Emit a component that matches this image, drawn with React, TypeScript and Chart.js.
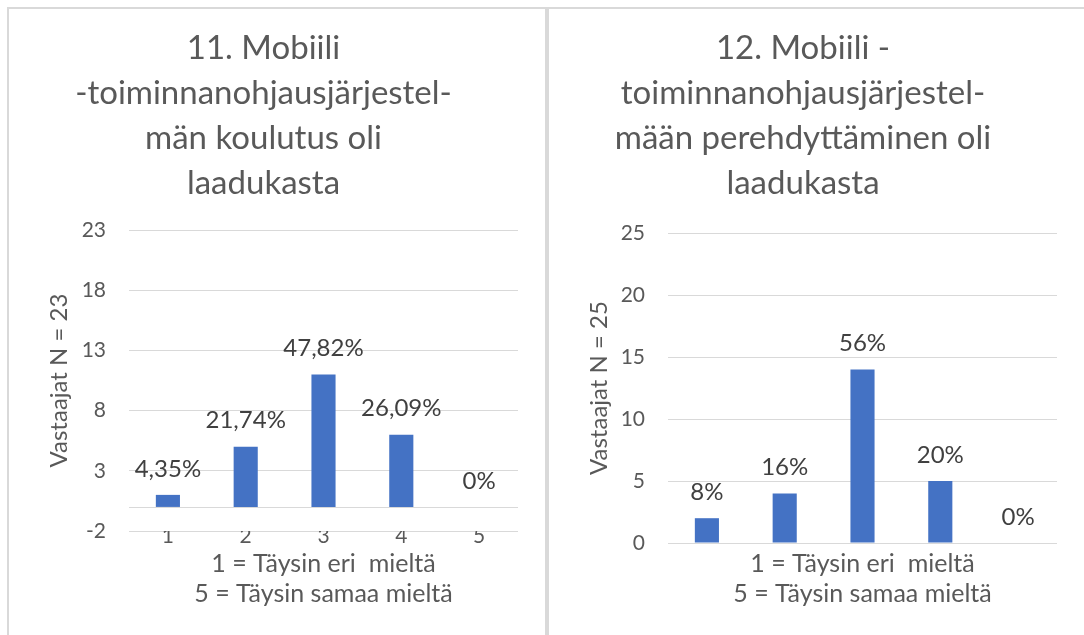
import React, { useEffect, useRef } from "react";
import { Chart, registerables } from "chart.js";

Chart.register(...registerables);

const categories = ["1", "2", "3", "4", "5"];

const title11 = ["11. Mobiili", "-toiminnanohjausjärjestel-", "män koulutus oli", "laadukasta"];
const counts11 = [1, 5, 11, 6, 0];
const pctLabels11 = ["4,35%", "21,74%", "47,82%", "26,09%", "0%"];
const yAxisTitle11 = "Vastaajat N = 23";
const yMin11 = -2;
const yMax11 = 23;

const title12 = ["12. Mobiili -", "toiminnanohjausjärjestel-", "mään perehdyttäminen oli", "laadukasta"];
const counts12 = [2, 4, 14, 5, 0];
const pctLabels12 = ["8%", "16%", "56%", "20%", "0%"];
const yAxisTitle12 = "Vastaajat N = 25";
const yMin12 = 0;
const yMax12 = 25;

const yStep = 5;
const xAxisTitle = ["1 = Täysin eri  mieltä", "5 = Täysin samaa mieltä"];

const FONT = "Lato, 'Open Sans', sans-serif";
const GREY = "#595959";
const GRID = "#d9d9d9";
const BAR = "#4472C4";
const TICK_SIZE = 21;

const labelPlugin = {
  id: "pctLabels",
  afterDatasetsDraw(chart: any, _args: any, opts: any) {
    const ctx = chart.ctx;
    const meta = chart.getDatasetMeta(0);
    ctx.save();
    ctx.font = `24px ${FONT}`;
    ctx.fillStyle = "#404040";
    ctx.textAlign = "center";
    ctx.textBaseline = "middle";
    meta.data.forEach((bar: any, i: number) => {
      ctx.fillText(opts.labels[i], bar.x, bar.y - 26);
    });
    ctx.restore();
  },
};

const zeroLinePlugin = {
  id: "zeroLine",
  beforeDatasetsDraw(chart: any) {
    const y = chart.scales.y;
    if (y.min >= 0) return;
    const py = Math.round(y.getPixelForValue(0)) + 0.5;
    const ctx = chart.ctx;
    ctx.save();
    ctx.strokeStyle = GRID;
    ctx.lineWidth = 1;
    ctx.beginPath();
    ctx.moveTo(chart.chartArea.left, py);
    ctx.lineTo(chart.chartArea.right, py);
    ctx.stroke();
    ctx.restore();
  },
};

type PanelProps = {
  title: string[];
  counts: number[];
  pct: string[];
  yTitle: string;
  yMin: number;
  yMax: number;
  showXTicks: boolean;
  yWidth: number;
  xHeight: number;
  titleBottom: number;
  width: number;
  height: number;
};

function BarPanel(p: PanelProps) {
  const ref = useRef<HTMLCanvasElement | null>(null);
  useEffect(() => {
    if (!ref.current) return;
    const chart = new Chart(ref.current, {
      type: "bar",
      data: {
        labels: categories,
        datasets: [
          {
            data: p.counts,
            backgroundColor: BAR,
            barPercentage: 0.31,
            categoryPercentage: 1,
          },
        ],
      },
      options: {
        responsive: false,
        animation: false,
        devicePixelRatio: 1,
        layout: { padding: { left: 0, right: 27, top: 0, bottom: 0 } },
        plugins: {
          legend: { display: false },
          tooltip: { enabled: false },
          title: {
            display: true,
            text: p.title,
            color: GREY,
            font: { family: FONT, size: 33, weight: "normal", lineHeight: "45px" },
            padding: { top: 17, bottom: p.titleBottom },
          },
          pctLabels: { labels: p.pct },
        } as any,
        scales: {
          x: {
            grid: { display: false },
            border: { display: false },
            ticks: {
              display: p.showXTicks,
              color: GREY,
              font: { family: FONT, size: TICK_SIZE },
              padding: -15,
            },
            title: {
              display: true,
              text: xAxisTitle,
              color: GREY,
              font: { family: FONT, size: 25, lineHeight: "30px" },
              padding: { top: 0, bottom: 26 },
            },
            afterFit: (s: any) => {
              s.height = p.xHeight;
            },
          },
          y: {
            min: p.yMin,
            max: p.yMax,
            grid: { color: GRID, drawTicks: false, lineWidth: 1 },
            border: { display: false },
            ticks: {
              stepSize: yStep,
              color: GREY,
              font: { family: FONT, size: TICK_SIZE },
              padding: 23,
            },
            title: {
              display: true,
              text: p.yTitle,
              color: GREY,
              font: { family: FONT, size: 24, lineHeight: "30px" },
              padding: { top: 35, bottom: 0 },
            },
            afterFit: (s: any) => {
              s.width = p.yWidth;
            },
          },
        },
      },
      plugins: [labelPlugin, zeroLinePlugin],
    } as any);
    return () => chart.destroy();
  }, []);
  return <canvas ref={ref} width={p.width} height={p.height} style={{ display: "block", width: p.width, height: p.height }} />;
}

export default function App() {
  const line = "#d9d9d9";
  return (
    <div style={{ position: "fixed", left: 0, top: 0, width: 1084, height: 635, background: "#fff", overflow: "hidden" }}>
      <div style={{ position: "absolute", left: 7, top: 7, width: 1077, height: 2, background: line }} />
      <div style={{ position: "absolute", left: 7, top: 7, width: 2, height: 628, background: line }} />
      <div style={{ position: "absolute", left: 545, top: 7, width: 4, height: 628, background: line }} />
      <div style={{ position: "absolute", left: 9, top: 9 }}>
        <BarPanel
          title={title11}
          counts={counts11}
          pct={pctLabels11}
          yTitle={yAxisTitle11}
          yMin={yMin11}
          yMax={yMax11}
          showXTicks={true}
          yWidth={120}
          xHeight={104}
          titleBottom={24}
          width={536}
          height={626}
        />
      </div>
      <div style={{ position: "absolute", left: 549, top: 9 }}>
        <BarPanel
          title={title12}
          counts={counts12}
          pct={pctLabels12}
          yTitle={yAxisTitle12}
          yMin={yMin12}
          yMax={yMax12}
          showXTicks={false}
          yWidth={119}
          xHeight={92}
          titleBottom={27}
          width={535}
          height={626}
        />
      </div>
    </div>
  );
}
